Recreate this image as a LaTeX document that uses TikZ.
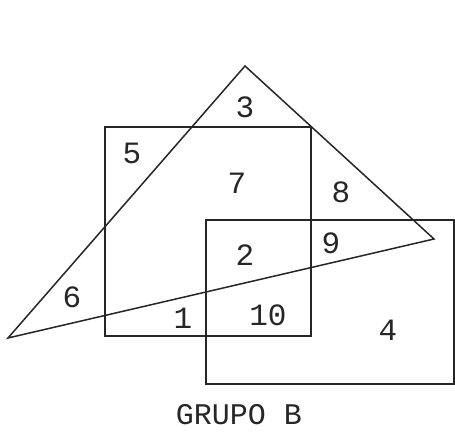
\documentclass[tikz,border=0pt]{standalone}
\usepackage{fontspec}
\newfontfamily\mono{Liberation Mono}
\begin{document}
\begin{tikzpicture}[x=1pt,y=-1pt,
  edge/.style={draw=black!85,line width=1.5pt,line join=miter},
  lab/.style={font=\mono\fontsize{31}{31}\selectfont,text=black!85,inner sep=0pt},
  titletext/.style={font=\mono\fontsize{30}{30}\selectfont,text=black!85,inner sep=0pt}]
\useasboundingbox (0,0) rectangle (455,435);
\coordinate (tt) at (245,66);
\coordinate (tl) at (8,338);
\coordinate (tr) at (434,239);
\coordinate (sa) at (105,127);
\coordinate (sb) at (311,336);
\coordinate (ra) at (206,220);
\coordinate (rb) at (454,384);
\draw[edge] (tt) -- (tr) -- (tl) -- cycle;
\draw[edge] (sa) rectangle (sb);
\draw[edge] (ra) rectangle (rb);
\node[lab] (n3) at (245,107) {3};
\node[lab] (n5) at (132,153) {5};
\node[lab] (n7) at (237,183) {7};
\node[lab] (n8) at (341,192) {8};
\node[lab] (n2) at (245,255) {2};
\node[lab] (n9) at (331,243) {9};
\node[lab] (n6) at (72,297) {6};
\node[lab] (n1) at (183,318) {1};
\node[lab] (n10) at (268,315) {10};
\node[lab] (n4) at (388,330) {4};
\node[titletext] (title) at (239,415) {GRUPO B};
\end{tikzpicture}
\end{document}
